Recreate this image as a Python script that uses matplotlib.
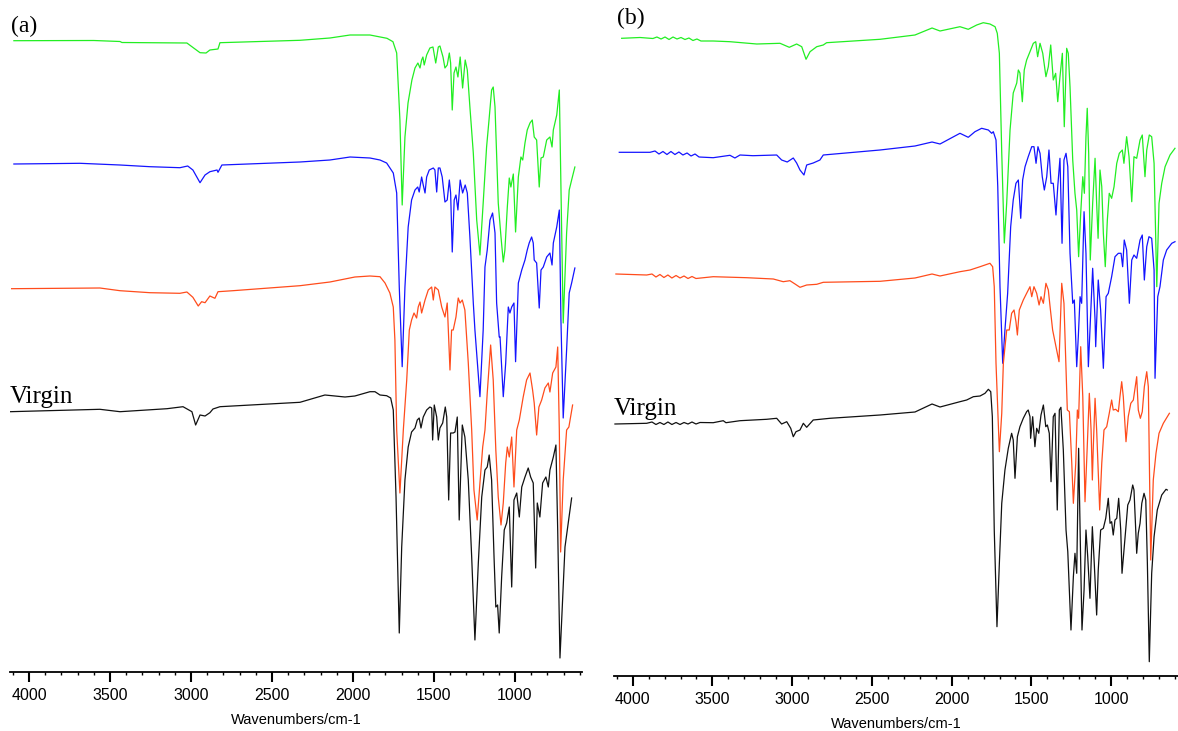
import matplotlib
matplotlib.use("Agg")
import matplotlib.pyplot as plt
from matplotlib.ticker import MultipleLocator

# ---------------- data: (wavenumber cm-1, transmittance in arbitrary offset units) ----------------
a_green = [(4093, 659.3), (3600, 659.5), (3438, 658.5), (3426, 657.5), (3025, 657), (2944, 647.3), (2907, 647), (2883, 650),
           (2833, 651), (2821, 657.3), (2327, 659.7), (2142, 662), (2018, 665), (1895, 665), (1790, 661.7),
           (1753, 658.3), (1730, 647), (1710, 580), (1696, 495), (1679, 563), (1660, 597), (1636, 620),
           (1617, 632), (1599, 637), (1586, 632), (1576, 640), (1568, 643), (1560, 635), (1545, 645),
           (1525, 652), (1506, 653), (1489, 637), (1473, 653), (1463, 654), (1444, 643), (1432, 632),
           (1418, 635), (1405, 647), (1397, 637), (1387, 590), (1376, 627), (1364, 633), (1352, 623),
           (1338, 643), (1323, 612), (1307, 640), (1294, 630), (1278, 593), (1257, 547), (1236, 480),
           (1216, 445), (1196, 497), (1175, 553), (1160, 580), (1144, 610), (1134, 613), (1123, 593),
           (1103, 497), (1086, 463), (1072, 438), (1062, 450), (1047, 493), (1035, 522), (1025, 513),
           (1010, 526), (996, 468), (979, 523), (963, 543), (952, 540), (938, 557), (924, 570), (907, 577),
           (893, 580), (881, 563), (866, 560), (850, 513), (839, 542), (825, 543), (804, 560), (784, 563),
           (771, 553), (763, 570), (742, 585), (726, 610), (716, 513), (702, 377), (681, 467), (665, 510),
           (650, 520), (630, 533)]

a_blue = [(4093, 536), (3685, 536.7), (3438, 535), (3253, 533.3), (3068, 532.3), (3020, 534), (2988, 530),
          (2944, 517.3), (2913, 525), (2883, 528.3), (2839, 530), (2833, 527.7), (2809, 535), (2327, 538),
          (2142, 540), (2018, 543), (1895, 542), (1833, 540), (1792, 537), (1751, 527), (1730, 507),
          (1714, 413), (1696, 333.3), (1679, 413), (1659, 473), (1638, 500), (1617, 510), (1600, 513),
          (1591, 508), (1576, 523), (1566, 515), (1555, 507), (1545, 523), (1529, 530), (1504, 532),
          (1494, 530), (1483, 508), (1473, 532), (1463, 532), (1449, 523), (1432, 498), (1418, 500),
          (1405, 520), (1397, 507), (1387, 448), (1375, 500), (1364, 505), (1352, 490), (1338, 520),
          (1323, 507), (1307, 515), (1294, 507), (1278, 463), (1257, 397), (1247, 370), (1216, 303.3),
          (1196, 370), (1185, 433), (1171, 450), (1154, 480), (1138, 487), (1123, 467), (1113, 397),
          (1097, 363), (1092, 363.3), (1072, 303.3), (1057, 337), (1041, 393), (1031, 387), (1020, 393),
          (1006, 397), (996, 338.3), (979, 417), (958, 430), (938, 440), (924, 450), (912, 457), (897, 463),
          (887, 457), (881, 440), (866, 437), (850, 392), (839, 430), (825, 433), (804, 443), (784, 447),
          (771, 435), (763, 457), (742, 473), (726, 490), (716, 380), (702, 282), (681, 350), (665, 407),
          (650, 417), (630, 432)]

a_orange = [(4107, 411.3), (3562, 412), (3438, 409.3), (3253, 407.3), (3068, 406.7), (3025, 408), (2988, 402.7),
            (2955, 394), (2934, 398.3), (2913, 397.3), (2883, 404), (2852, 401.7), (2833, 408.3), (2741, 409.3),
            (2327, 414.3), (2142, 418), (1988, 423), (1895, 424), (1833, 423.3), (1802, 417), (1772, 407),
            (1751, 393), (1741, 360), (1730, 270), (1710, 207), (1689, 270), (1668, 320), (1652, 370),
            (1638, 380), (1623, 387), (1607, 382), (1597, 393), (1586, 398), (1576, 387), (1555, 400),
            (1535, 410), (1514, 413), (1504, 400), (1494, 413), (1473, 410), (1452, 393), (1432, 383),
            (1418, 397), (1401, 330), (1391, 370), (1381, 370), (1364, 383), (1350, 402), (1339, 397),
            (1325, 400), (1309, 390), (1288, 337), (1267, 270), (1253, 210), (1233, 180), (1216, 217),
            (1199, 253), (1185, 270), (1171, 307), (1150, 355), (1134, 320), (1118, 250), (1103, 203),
            (1086, 175), (1072, 197), (1057, 237), (1047, 253), (1035, 243), (1020, 263), (1006, 213),
            (989, 270), (973, 280), (949, 303), (928, 320), (907, 327), (891, 310), (881, 297), (866, 265),
            (852, 293), (835, 300), (815, 312), (794, 317), (784, 308), (767, 327), (747, 333), (736, 353),
            (726, 270), (718, 148), (702, 220), (681, 270), (667, 273), (644, 295)]

a_black = [(4117, 288.3), (3562, 290.7), (3438, 288.3), (3148, 291.3), (3049, 293.3), (2994, 288.3), (2971, 275),
           (2944, 285), (2913, 284), (2883, 287.3), (2864, 291), (2821, 293.3), (2327, 297.7), (2173, 305),
           (2049, 303), (1988, 304), (1895, 308.3), (1864, 308.3), (1833, 305), (1792, 304.3), (1767, 302),
           (1751, 290), (1734, 203), (1714, 67), (1699, 153), (1679, 220), (1659, 253), (1638, 268),
           (1617, 272), (1603, 280), (1591, 282), (1580, 272), (1566, 283), (1545, 290), (1525, 293),
           (1514, 292), (1508, 260), (1498, 295), (1483, 283), (1473, 260), (1463, 272), (1446, 277),
           (1430, 293), (1421, 283), (1409, 200), (1397, 267), (1381, 267), (1370, 268), (1356, 283),
           (1344, 180), (1325, 275), (1309, 263), (1288, 220), (1267, 143), (1247, 60), (1226, 137),
           (1205, 203), (1185, 230), (1171, 233), (1159, 245), (1144, 220), (1129, 143), (1118, 93),
           (1107, 95), (1097, 67), (1082, 123), (1066, 170), (1051, 177), (1035, 193), (1020, 113),
           (1006, 200), (989, 207), (973, 183), (958, 213), (938, 223), (918, 232), (903, 223), (887, 217),
           (872, 132), (862, 197), (846, 183), (829, 217), (809, 223), (794, 213), (784, 230), (763, 243),
           (747, 255), (736, 170), (722, 42), (705, 103), (691, 153), (671, 177), (650, 202)]

b_green = [(4069, 661.7), (3954, 662.5), (3873, 661.5), (3848, 663), (3822, 661), (3797, 663), (3772, 660.5),
           (3747, 663), (3722, 661), (3697, 662.5), (3672, 660.5), (3647, 662), (3622, 659.5), (3597, 661),
           (3572, 659), (3495, 659), (3390, 658.3), (3222, 656), (3076, 656.7), (3018, 652.7), (2972, 656),
           (2940, 653.3), (2913, 640.7), (2888, 648.3), (2846, 653.3), (2805, 655), (2784, 657.3),
           (2449, 660.7), (2230, 665), (2123, 672), (2073, 669), (1948, 673.3), (1896, 670.7), (1843, 675),
           (1802, 677.3), (1760, 676), (1728, 673.3), (1714, 666.7), (1701, 646.7), (1686, 547), (1670, 457),
           (1655, 497), (1634, 570), (1614, 607), (1592, 617), (1582, 630), (1572, 627), (1557, 598.3),
           (1545, 630), (1530, 640), (1509, 648.3), (1488, 656.7), (1473, 658.3), (1461, 643.3),
           (1446, 656.7), (1429, 646.7), (1409, 623.3), (1394, 633.3), (1379, 655), (1363, 620),
           (1348, 626.7), (1335, 598.3), (1321, 623.3), (1306, 646.7), (1294, 573.3), (1279, 651.7),
           (1269, 646.7), (1258, 613.3), (1241, 540), (1227, 506.7), (1216, 490), (1204, 443.3),
           (1191, 486.7), (1178, 523.3), (1168, 506.7), (1158, 563.3), (1150, 591.7), (1141, 546.7),
           (1131, 440), (1116, 496.7), (1101, 541.7), (1091, 496.7), (1082, 461.7), (1070, 530),
           (1059, 513.3), (1049, 466.7), (1037, 433.3), (1024, 480), (1012, 506.7), (997, 501.7),
           (982, 513.3), (965, 536.7), (949, 546.7), (930, 550), (920, 536.7), (903, 563.3), (888, 543.3),
           (871, 498.3), (857, 543.3), (840, 541.7), (819, 560), (805, 565), (788, 523.3), (777, 550),
           (761, 565), (746, 563.3), (731, 536.7), (714, 413.3), (700, 496.7), (683, 516.7), (662, 533.3),
           (631, 545), (600, 551.7)]

b_blue = [(4084, 547.7), (3891, 547.7), (3860, 549), (3835, 546), (3810, 548.5), (3785, 545.5), (3760, 548.5),
          (3735, 545.5), (3710, 548), (3685, 545), (3659, 547), (3634, 544), (3609, 546), (3584, 543),
          (3495, 542.3), (3390, 544.7), (3359, 542), (3327, 545), (3246, 544.3), (3097, 545), (3066, 540),
          (3031, 538), (2993, 542), (2972, 537), (2951, 530), (2926, 525), (2909, 535), (2868, 537),
          (2826, 540), (2805, 545), (2449, 550), (2230, 554), (2123, 558), (2073, 556), (1948, 566.7),
          (1896, 562.7), (1854, 568.3), (1812, 571.7), (1770, 570), (1749, 566.7), (1739, 568.3),
          (1722, 560), (1711, 513.3), (1697, 413.3), (1680, 336.7), (1666, 370), (1649, 406.7),
          (1630, 473.3), (1614, 500), (1597, 516.7), (1582, 520), (1567, 481.7), (1555, 520), (1540, 533.3),
          (1520, 543.3), (1498, 553.3), (1484, 553.3), (1471, 536.7), (1459, 553.3), (1446, 546.7),
          (1432, 523.3), (1419, 510), (1404, 523.3), (1390, 550), (1377, 516.7), (1363, 516.7), (1346, 485),
          (1335, 513.3), (1321, 541.7), (1308, 456.7), (1296, 540), (1283, 546.7), (1272, 533.3),
          (1258, 446.7), (1241, 396.7), (1231, 400), (1216, 333.3), (1206, 363.3), (1195, 403.3),
          (1185, 396.7), (1170, 488.3), (1158, 446.7), (1143, 333.3), (1116, 431.7), (1101, 380),
          (1097, 353.3), (1081, 420), (1066, 390), (1049, 331.7), (1032, 403.3), (1018, 406.7), (997, 423.3),
          (976, 443.3), (955, 446.7), (938, 446.7), (928, 433.3), (918, 460), (903, 450), (886, 396.7),
          (871, 440), (857, 445), (840, 441.7), (819, 460), (805, 465), (792, 420), (777, 453.3),
          (763, 463.3), (746, 461.7), (731, 430), (725, 321.7), (708, 403.3), (694, 413.3), (673, 440),
          (652, 450), (620, 456.7), (600, 458.3)]

b_orange = [(4105, 426), (3912, 425), (3879, 426), (3854, 423), (3829, 425.5), (3804, 422.5), (3779, 425),
            (3754, 422), (3728, 424.5), (3703, 422), (3678, 424), (3653, 421.5), (3628, 423.5), (3603, 421.5),
            (3495, 423.3), (3285, 422.3), (3118, 421), (3056, 418.3), (3014, 419.3), (2982, 416), (2951, 412.7),
            (2909, 415), (2846, 415.7), (2805, 417.7), (2449, 418.7), (2230, 422), (2123, 426), (2073, 424),
            (1948, 428.3), (1885, 430), (1822, 433.3), (1760, 436.7), (1743, 433.3), (1733, 413.3),
            (1722, 336.7), (1701, 248.3), (1686, 286.7), (1676, 336.7), (1655, 370), (1639, 370),
            (1624, 386.7), (1609, 390), (1597, 378.3), (1588, 365), (1576, 390), (1551, 400), (1530, 406.7),
            (1509, 413.3), (1498, 403.3), (1484, 413.3), (1467, 406.7), (1452, 395), (1440, 403.3),
            (1425, 396.7), (1409, 416.7), (1394, 410), (1383, 393.3), (1367, 370), (1327, 338.3),
            (1310, 416.7), (1296, 396.7), (1275, 290), (1262, 288.3), (1247, 236.7), (1237, 196.7),
            (1222, 236.7), (1212, 290), (1204, 281.7), (1191, 353.3), (1178, 303.3), (1164, 198.3),
            (1150, 253.3), (1137, 306.7), (1126, 270), (1118, 220), (1112, 253.3), (1101, 301.7), (1091, 270),
            (1072, 190), (1059, 236.7), (1045, 270), (1028, 273.3), (1012, 286.7), (997, 300), (987, 290),
            (972, 290.7), (955, 288.3), (945, 303.3), (934, 318.3), (924, 303.3), (907, 258.3), (893, 283.3),
            (877, 296.7), (861, 300), (840, 323.3), (830, 290), (817, 281.7), (805, 288.3), (792, 313.3),
            (777, 328.3), (767, 313.3), (761, 243.3), (752, 140), (736, 220), (719, 246.7), (700, 266.7),
            (673, 276.7), (635, 286.7)]

b_black = [(4111, 276), (3912, 276.7), (3879, 278), (3854, 275.5), (3829, 277.5), (3804, 275.5), (3779, 278),
           (3754, 275.5), (3728, 277.5), (3703, 275.5), (3678, 277.5), (3653, 276), (3628, 278), (3603, 276),
           (3578, 277.5), (3495, 277.3), (3432, 279.3), (3415, 277.3), (3327, 279.3), (3160, 280.7),
           (3097, 281.7), (3066, 276), (3034, 278.3), (3009, 271.7), (2993, 263.3), (2976, 268.3), (2951, 270),
           (2930, 276.7), (2909, 272.7), (2868, 280), (2763, 281.7), (2449, 285), (2230, 288), (2123, 296),
           (2073, 293), (1948, 298.3), (1906, 300), (1864, 303.3), (1822, 304), (1791, 306.7), (1770, 310.7),
           (1755, 308.3), (1745, 283.3), (1733, 170), (1716, 73.3), (1701, 136.7), (1686, 196.7), (1666, 230),
           (1645, 251.7), (1624, 266.7), (1614, 260), (1603, 221.7), (1588, 263.3), (1572, 273.3),
           (1551, 281.7), (1530, 288.3), (1520, 290), (1509, 283.3), (1505, 261.7), (1492, 283.3),
           (1478, 253.3), (1467, 271.7), (1454, 266.7), (1440, 285), (1425, 295), (1410, 273.3), (1400, 275),
           (1388, 266.7), (1377, 218.3), (1363, 283.3), (1352, 286.7), (1338, 190), (1325, 290),
           (1315, 292.7), (1300, 250), (1283, 170), (1272, 148.3), (1252, 70), (1237, 123.3), (1227, 146.7),
           (1216, 126.7), (1204, 251.7), (1191, 136.7), (1183, 70), (1170, 110), (1158, 170), (1147, 143.3),
           (1133, 101.7), (1118, 173.3), (1106, 136.7), (1091, 85), (1081, 130), (1066, 170), (1049, 171.7),
           (1034, 181.7), (1018, 201.7), (1007, 176.7), (997, 178.3), (987, 165), (976, 180), (965, 181.7),
           (953, 201.7), (940, 170), (932, 126.7), (924, 141.7), (909, 170), (896, 195), (882, 200),
           (865, 215), (857, 210), (846, 170), (840, 146.7), (830, 166.7), (819, 176.7), (808, 196.7),
           (794, 206.7), (783, 200), (773, 136.7), (761, 38.3), (746, 126.7), (731, 163.3), (711, 190),
           (683, 205), (656, 210.7), (648, 210)]

panel_labels = ["(a)", "(b)"]
virgin_label = "Virgin"
x_label = "Wavenumbers/cm-1"
series_colors = {"green": "#22EE22", "blue": "#1414FF", "orange": "#FF4C1C", "black": "#111111"}

# ---------------- figure ----------------
W, H = 1178, 731
fig = plt.figure(figsize=(W / 100, H / 100), dpi=100)

sans = ["Liberation Sans Narrow", "Liberation Sans", "DejaVu Sans"]
serif = ["Liberation Serif", "DejaVu Serif"]


def make_axes(left_px, right_px, spine_px, xlim):
    ax = fig.add_axes([left_px / W, (H - spine_px) / H, (right_px - left_px) / W, spine_px / H])
    ax.set_xlim(*xlim)
    ax.set_ylim(700 - spine_px, 700)
    for s in ("left", "right", "top"):
        ax.spines[s].set_visible(False)
    ax.spines["bottom"].set_linewidth(1.3)
    ax.set_yticks([])
    ax.xaxis.set_major_locator(MultipleLocator(500))
    ax.xaxis.set_minor_locator(MultipleLocator(100))
    ax.tick_params(axis="x", which="major", direction="out", length=7.2, width=1.5, pad=4.5,
                   labelsize=11.5)
    ax.tick_params(axis="x", which="minor", direction="out", length=2.4, width=1.0)
    ax.set_xlabel(x_label, fontsize=10.5, family=sans, labelpad=7)
    ax.patch.set_alpha(0)
    return ax


def draw(ax, data, color):
    wn, val = zip(*data)
    ax.plot(wn, val, color=color, lw=0.9, solid_joinstyle="round")


ax_a = make_axes(10, 582, 672, (4117, 586))
draw(ax_a, a_green, series_colors["green"])
draw(ax_a, a_blue, series_colors["blue"])
draw(ax_a, a_orange, series_colors["orange"])
draw(ax_a, a_black, series_colors["black"])

ax_b = make_axes(614, 1178, 676, (4117, 581))
draw(ax_b, b_green, series_colors["green"])
draw(ax_b, b_blue, series_colors["blue"])
draw(ax_b, b_orange, series_colors["orange"])
draw(ax_b, b_black, series_colors["black"])

for ax in (ax_a, ax_b):
    for lab in ax.get_xticklabels():
        lab.set_family(sans)

fig.text(11 / W, 1 - 32 / H, panel_labels[0], family=serif, fontsize=17, va="baseline", ha="left")
fig.text(617 / W, 1 - 24 / H, panel_labels[1], family=serif, fontsize=17, va="baseline", ha="left")
fig.text(10 / W, 1 - 403 / H, virgin_label, family=serif, fontsize=18, va="baseline", ha="left")
fig.text(614 / W, 1 - 415 / H, virgin_label, family=serif, fontsize=18, va="baseline", ha="left")

fig.savefig("out.png", dpi=100)
